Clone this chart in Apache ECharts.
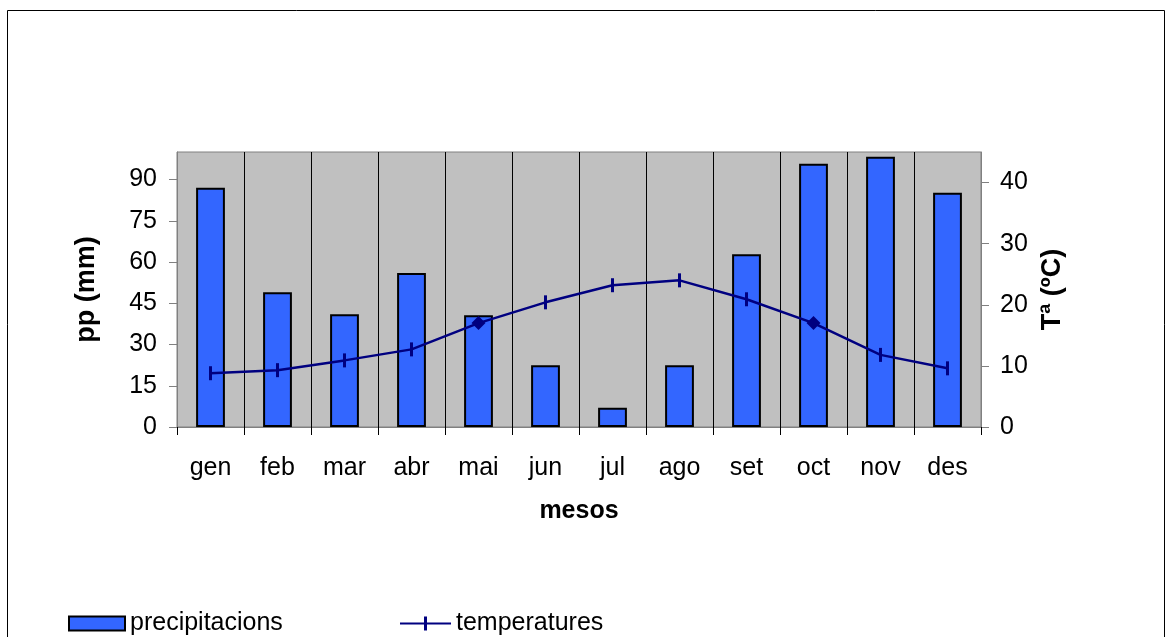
<!DOCTYPE html>
<html>
<head>
<meta charset="utf-8">
<script src="https://cdn.jsdelivr.net/npm/echarts@6/dist/echarts.min.js"></script>
<style>
html,body{margin:0;padding:0;background:#fff;}
#chart{width:1172px;height:637px;}
</style>
</head>
<body>
<div id="chart"></div>
<script>
const months = ['gen','feb','mar','abr','mai','jun','jul','ago','set','oct','nov','des'];
const precipitacions = [87, 49, 41, 56, 40.6, 22.5, 7, 22.5, 62.8, 95.7, 98.3, 85.2];
const temperatures = [8.8, 9.3, 10.9, 12.7, 17.0, 20.4, 23.2, 24.0, 20.9, 17.0, 11.8, 9.6];
const diamondMonths = ['mai', 'oct'];
const ppTicks = [0, 15, 30, 45, 60, 75, 90];
const tTicks = [0, 10, 20, 30, 40];

const FONT = 'Liberation Sans, Arial, sans-serif';
const chart = echarts.init(document.getElementById('chart'), null, {renderer: 'canvas'});

const tempData = temperatures.map((v, i) => {
  if (diamondMonths.indexOf(months[i]) >= 0) {
    return {value: v, symbol: 'diamond', symbolSize: [14, 14]};
  }
  return {value: v};
});

chart.setOption({
  animation: false,
  backgroundColor: '#fff',
  textStyle: {fontFamily: FONT},
  graphic: [{
    type: 'rect', silent: true, z: -10,
    shape: {x: 7.5, y: 10.5, width: 1157, height: 700},
    style: {fill: 'none', stroke: '#000', lineWidth: 1}
  }],
  grid: {
    left: 177, right: 191, top: 152, bottom: 210,
    show: true, backgroundColor: '#C0C0C0', borderColor: '#808080', borderWidth: 1
  },
  legend: [{
    left: 63, top: 606,
    itemWidth: 56, itemHeight: 14, itemGap: 6,
    textStyle: {fontSize: 25, color: '#000', fontFamily: FONT},
    data: [{name: 'precipitacions', icon: 'rect'}]
  }, {
    left: 395, top: 606,
    itemWidth: 51, itemHeight: 14,
    textStyle: {fontSize: 25, color: '#000', fontFamily: FONT},
    itemStyle: {color: '#000080'},
    data: [{name: 'temperatures', icon: 'path://M0,6H24V0H27V6H51V8H27V14H24V8H0Z'}]
  }],
  xAxis: {
    type: 'category',
    data: months,
    boundaryGap: true,
    name: 'mesos',
    nameLocation: 'middle',
    nameGap: 72,
    nameTextStyle: {fontSize: 25, fontWeight: 'bold', color: '#000', fontFamily: FONT},
    axisLine: {show: true, lineStyle: {color: '#808080', width: 1}},
    axisTick: {show: true, length: 8, alignWithLabel: false, lineStyle: {color: '#000'}},
    axisLabel: {fontSize: 25, color: '#000', margin: 29, fontFamily: FONT},
    splitLine: {show: true, lineStyle: {color: '#000', width: 1}}
  },
  yAxis: [{
    type: 'value',
    min: 0, max: 100,
    position: 'left',
    name: 'pp (mm)',
    nameLocation: 'middle',
    nameGap: 77,
    nameTextStyle: {fontSize: 27, fontWeight: 'bold', color: '#000', fontFamily: FONT},
    axisLine: {show: true, lineStyle: {color: '#808080', width: 1}},
    axisTick: {show: true, length: 8, customValues: ppTicks, lineStyle: {color: '#808080'}},
    axisLabel: {fontSize: 25, color: '#000', margin: 20, customValues: ppTicks, fontFamily: FONT},
    splitLine: {show: false}
  }, {
    type: 'value',
    min: 0, max: 45,
    position: 'right',
    name: 'Tª (ºC)',
    nameLocation: 'middle',
    nameGap: 58,
    nameTextStyle: {fontSize: 27, fontWeight: 'bold', color: '#000', fontFamily: FONT},
    axisLine: {show: true, lineStyle: {color: '#808080', width: 1}},
    axisTick: {show: true, length: 8, customValues: tTicks, lineStyle: {color: '#808080'}},
    axisLabel: {fontSize: 25, color: '#000', margin: 19, customValues: tTicks, fontFamily: FONT},
    splitLine: {show: false}
  }],
  series: [{
    name: 'precipitacions',
    type: 'bar',
    yAxisIndex: 0,
    data: precipitacions,
    barWidth: '43%',
    itemStyle: {color: '#3366FF', borderColor: '#000', borderWidth: 2}
  }, {
    name: 'temperatures',
    type: 'line',
    yAxisIndex: 1,
    data: tempData,
    smooth: false,
    symbol: 'rect',
    symbolSize: [3, 14],
    showAllSymbol: true,
    lineStyle: {color: '#000080', width: 2.5},
    itemStyle: {color: '#000080', borderWidth: 0}
  }]
});
</script>
</body>
</html>
